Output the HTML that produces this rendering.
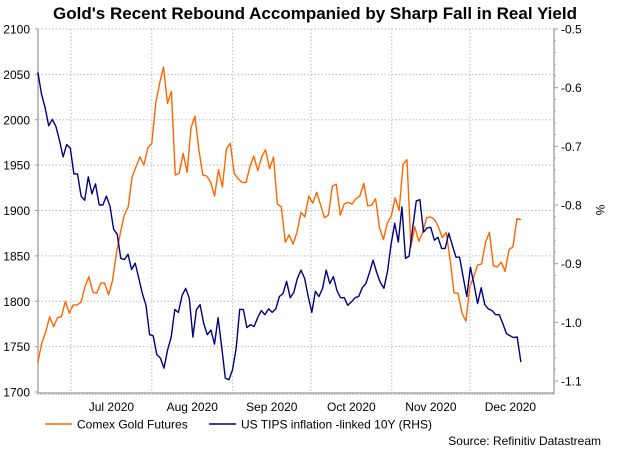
<!DOCTYPE html>
<html><head><meta charset="utf-8"><style>
body{margin:0;background:#fff;}
svg{display:block;font-family:"Liberation Sans",Arial,sans-serif;}
</style></head><body>
<svg id="chart" width="630" height="474">
<text x="315" y="19" text-anchor="middle" font-size="17" font-weight="bold" fill="#000">Gold's Recent Rebound Accompanied by Sharp Fall in Real Yield</text>
<g id="grid"></g>
<g id="axes"></g>
<g id="series"></g>
<text x="596" y="210" font-size="12" transform="rotate(90 596 210)" text-anchor="middle">%</text>
<line x1="45" y1="424" x2="72" y2="424" stroke="#ff6600" stroke-width="1.5"/>
<text x="77" y="428.5" font-size="12">Comex Gold Futures</text>
<line x1="209" y1="424" x2="236" y2="424" stroke="#000080" stroke-width="1.5"/>
<text x="241" y="428.5" font-size="12">US TIPS inflation -linked 10Y (RHS)</text>
<text x="601" y="445" font-size="12" text-anchor="end">Source: Refinitiv Datastream</text>
</svg>
<script>
const leftTicks=[1700,1750,1800,1850,1900,1950,2000,2050,2100];
const rightTicks=[-1.1,-1.0,-0.9,-0.8,-0.7,-0.6,-0.5];
const rightLabels=["-1.1","-1.0","-0.9","-0.8","-0.7","-0.6","-0.5"];
const monthStarts=[30,61,92,122,153,183];
const monthLabels=["Jul 2020","Aug 2020","Sep 2020","Oct 2020","Nov 2020","Dec 2020"];
const startDay=17.3, endDay=202.5;
const gold=[1733,1754,1766,1783,1772,1782,1783,1800,1787,1796,1796,1799,1816,1827,1810,1809,1820,1820,1807,1823,1853,1875,1895,1904,1937,1948,1959,1950,1969,1974,2018,2040,2058,2018,2031,1939,1941,1963,1942,1991,2004,1967,1939,1938,1931,1916,1945,1926,1968,1974,1941,1935,1931,1931,1948,1960,1944,1959,1967,1946,1959,1907,1904,1865,1873,1863,1876,1898,1893,1916,1908,1920,1906,1892,1895,1927,1929,1895,1907,1909,1907,1913,1916,1930,1905,1906,1913,1881,1868,1886,1894,1914,1900,1951,1956,1860,1882,1866,1876,1892,1893,1890,1882,1870,1876,1845,1809,1809,1787,1778,1816,1827,1840,1841,1865,1876,1839,1838,1843,1833,1857,1860,1891,1890];
const tips=[-0.574,-0.611,-0.634,-0.665,-0.654,-0.666,-0.690,-0.718,-0.697,-0.703,-0.747,-0.747,-0.785,-0.792,-0.752,-0.781,-0.764,-0.800,-0.800,-0.785,-0.802,-0.841,-0.850,-0.891,-0.893,-0.884,-0.910,-0.899,-0.925,-0.951,-0.971,-1.021,-1.023,-1.055,-1.061,-1.078,-1.047,-1.025,-0.978,-0.983,-0.954,-0.942,-0.959,-1.025,-0.978,-0.970,-1.002,-1.021,-1.013,-1.037,-0.992,-1.042,-1.095,-1.098,-1.081,-1.045,-0.978,-0.978,-1.009,-1.004,-1.007,-0.992,-0.980,-0.987,-0.977,-0.983,-0.977,-0.956,-0.951,-0.930,-0.958,-0.949,-0.925,-0.911,-0.925,-0.956,-0.983,-0.947,-0.956,-0.942,-0.911,-0.934,-0.922,-0.946,-0.958,-0.958,-0.971,-0.965,-0.958,-0.956,-0.941,-0.934,-0.915,-0.894,-0.915,-0.932,-0.942,-0.913,-0.867,-0.831,-0.863,-0.803,-0.891,-0.887,-0.839,-0.793,-0.791,-0.846,-0.839,-0.838,-0.860,-0.855,-0.874,-0.874,-0.848,-0.869,-0.889,-0.889,-0.923,-0.956,-0.906,-0.935,-0.968,-0.941,-0.970,-0.977,-0.980,-0.987,-0.987,-1.002,-1.019,-1.023,-1.026,-1.025,-1.068];
const X0=38,X1=554,Y0=29,Y1=392;
const xS=d=>71+(d-30)*(399/153);
const yL=v=>Y1-(v-1700)*(Y1-Y0)/400;
const yR=v=>29+(-0.5-v)*586.7;
const NS="http://www.w3.org/2000/svg";
function mk(tag,attrs,parent,txt){const e=document.createElementNS(NS,tag);for(const k in attrs)e.setAttribute(k,attrs[k]);if(txt!==undefined)e.textContent=txt;parent.appendChild(e);return e;}
const grid=document.getElementById('grid'),axes=document.getElementById('axes'),series=document.getElementById('series');
leftTicks.forEach(v=>{
 const y=yL(v);
 if(v>1700){const g=mk('line',{x1:X0,x2:X1,y1:y,y2:y,stroke:'#bbb','stroke-dasharray':'1.5,2','stroke-width':1},grid);
 
 }
 const t=mk('text',{x:30,y:y+4.5,'font-size':12,'text-anchor':'end'},axes,String(v));
 
 
 mk('line',{x1:X0-3,x2:X0,y1:y,y2:y,stroke:'#999'},axes);
});
rightTicks.forEach((v,i)=>{
 const y=yR(v);
 mk('line',{x1:X1,x2:X1+4,y1:y,y2:y,stroke:'#999'},axes);
 const t=mk('text',{x:561,y:y+4.5,'font-size':12},axes,rightLabels[i]);
 
 
});
for(let v=-1.1;v<=-0.5;v+=0.02){const y=yR(v);mk('line',{x1:X1,x2:X1+2,y1:y,y2:y,stroke:'#aaa'},axes);}
monthStarts.forEach((d,i)=>{
 const x=xS(d);
 const g=mk('line',{x1:x,x2:x,y1:Y0,y2:Y1,stroke:'#bbb','stroke-dasharray':'1.5,2'},grid);
 
 
 const next=i<monthStarts.length-1?xS(monthStarts[i+1]):xS(d+31);
 const t=mk('text',{x:(x+next)/2,y:411,'font-size':12,'text-anchor':'middle'},axes,monthLabels[i]);
 
 
});
for(let x=X0;x<=X1;x+=2.6){mk('line',{x1:x,x2:x,y1:Y1+1,y2:Y1+3,stroke:'#aaa'},axes);}
mk('line',{x1:X0,x2:X0,y1:Y0,y2:Y1+2,stroke:'#aaa','stroke-width':1.5},axes);
mk('line',{x1:X1,x2:X1,y1:Y0,y2:Y1+2,stroke:'#aaa','stroke-width':1.5},axes);
mk('line',{x1:X0,x2:X1,y1:Y1+1,y2:Y1+1,stroke:'#aaa','stroke-width':1.5},axes);
function path(arr,yf,color,name){
 const n=arr.length;
 const pts=arr.map((v,i)=>xS(startDay+(endDay-startDay)*i/(n-1)).toFixed(1)+','+yf(v).toFixed(1)).join(' ');
 const p=mk('polyline',{points:pts,fill:'none',stroke:color,'stroke-width':1.4,'stroke-linejoin':'round'},series);
 
 
}
path(gold,yL,'#ff6600','gold-line');
path(tips,yR,'#000080','tips-line');
</script>
</body></html>
